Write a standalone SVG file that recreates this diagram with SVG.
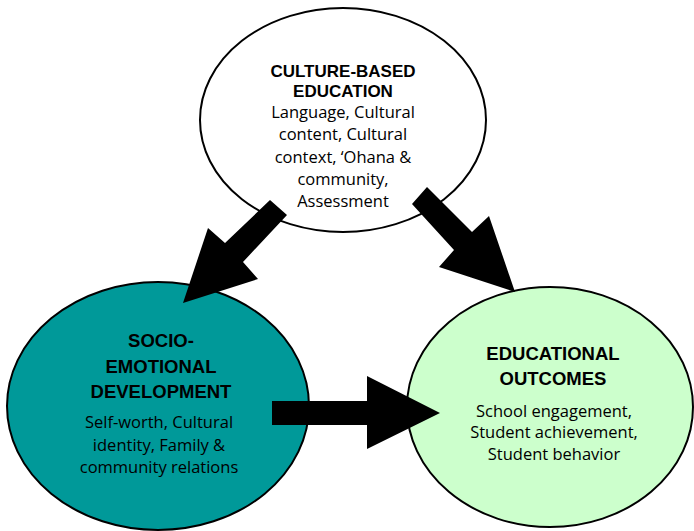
<svg xmlns="http://www.w3.org/2000/svg" width="694" height="531" viewBox="0 0 694 531">
<style>
.node{stroke:#000;stroke-width:2}
.t{font-family:"Open Sans","Noto Sans","Liberation Sans",sans-serif;text-anchor:middle;fill:#000}
.h{font-family:"Liberation Sans",Arial,sans-serif;font-size:17px;font-weight:bold}
.h2{font-size:18.5px}
.b{font-size:16.5px}
.arrow{fill:#000;stroke:none}
</style>
<rect width="694" height="531" fill="#fff"/>
<g id="culture">
<ellipse class="node" cx="343" cy="120" rx="143" ry="112" fill="#fff"/>
<text class="t h" x="343" y="77">CULTURE-BASED</text>
<text class="t h" x="343" y="97">EDUCATION</text>
<text class="t b" x="343" y="118">Language, Cultural</text>
<text class="t b" x="343" y="140">content, Cultural</text>
<text class="t b" x="343" y="163">context, ‘Ohana &amp;</text>
<text class="t b" x="343" y="185">community,</text>
<text class="t b" x="343" y="207">Assessment</text>
</g>
<g id="socio">
<ellipse class="node" cx="158" cy="406" rx="151" ry="124" fill="#009999"/>
<text class="t h h2" x="161" y="347">SOCIO-</text>
<text class="t h h2" x="161" y="373">EMOTIONAL</text>
<text class="t h h2" x="161" y="398">DEVELOPMENT</text>
<text class="t b" x="159" y="428">Self-worth, Cultural</text>
<text class="t b" x="159" y="451">identity, Family &amp;</text>
<text class="t b" x="159" y="473">community relations</text>
</g>
<g id="outcomes">
<ellipse class="node" cx="550" cy="407" rx="143" ry="120" fill="#ccffcc"/>
<text class="t h h2" x="553" y="360">EDUCATIONAL</text>
<text class="t h h2" x="553" y="385">OUTCOMES</text>
<text class="t b" x="554" y="417">School engagement,</text>
<text class="t b" x="554" y="438">Student achievement,</text>
<text class="t b" x="554" y="460">Student behavior</text>
</g>
<g id="connectors">
<polygon class="arrow" points="270,200 287,215 243,262 258,279 183,303 208,228 225,243"/>
<polygon class="arrow" points="427,187 412,204 454,250 439,267 515,292 489,216 472,232"/>
<polygon class="arrow" points="272,401 367,401 367,376 440,413 367,449 367,425 272,425"/>
</g>
</svg>
